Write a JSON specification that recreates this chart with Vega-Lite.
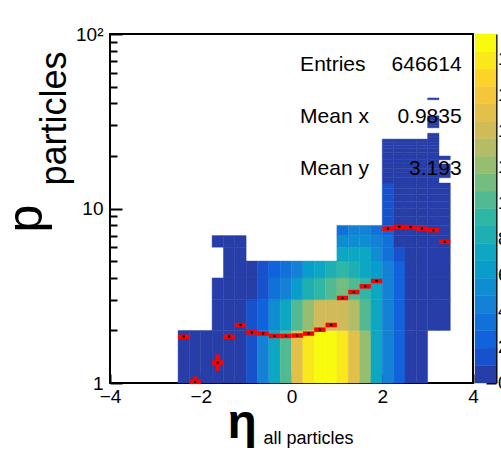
{
  "$schema": "https://vega.github.io/schema/vega-lite/v6.json",
  "width": 363,
  "height": 349,
  "autosize": {"type": "none"},
  "padding": {"left": 110, "top": 34, "right": 28, "bottom": 72},
  "background": "white",
  "view": {"stroke": "black", "strokeWidth": 2, "fill": "white"},
  "config": {
    "font": "Liberation Sans",
    "axis": {"labelFont": "Liberation Sans", "titleFont": "Liberation Sans", "labelColor": "black", "titleColor": "black", "tickColor": "black", "domainColor": "black", "grid": false}
  },
  "resolve": {"scale": {"x": "independent", "y": "independent", "color": "shared"}},
  "layer": [
    {
      "data": {"values": [
        {"x":-2.5,"x2":-2.25,"y":1,"y2":2,"z":0.45},
        {"x":-2.25,"x2":-2.0,"y":1,"y2":2,"z":0.5},
        {"x":-2.0,"x2":-1.75,"y":1,"y2":2,"z":0.4},
        {"x":-1.75,"x2":-1.5,"y":1,"y2":2,"z":0.55},
        {"x":-1.75,"x2":-1.5,"y":2,"y2":3,"z":0.3},
        {"x":-1.75,"x2":-1.5,"y":3,"y2":4,"z":0.2},
        {"x":-1.75,"x2":-1.5,"y":6,"y2":7,"z":0.1},
        {"x":-1.5,"x2":-1.25,"y":1,"y2":2,"z":0.6},
        {"x":-1.5,"x2":-1.25,"y":2,"y2":3,"z":0.5},
        {"x":-1.5,"x2":-1.25,"y":3,"y2":4,"z":0.4},
        {"x":-1.5,"x2":-1.25,"y":4,"y2":5,"z":0.3},
        {"x":-1.5,"x2":-1.25,"y":5,"y2":6,"z":0.2},
        {"x":-1.5,"x2":-1.25,"y":6,"y2":7,"z":0.1},
        {"x":-1.25,"x2":-1.0,"y":1,"y2":2,"z":0.7},
        {"x":-1.25,"x2":-1.0,"y":2,"y2":3,"z":0.6},
        {"x":-1.25,"x2":-1.0,"y":3,"y2":4,"z":0.5},
        {"x":-1.25,"x2":-1.0,"y":4,"y2":5,"z":0.35},
        {"x":-1.25,"x2":-1.0,"y":5,"y2":6,"z":0.25},
        {"x":-1.25,"x2":-1.0,"y":6,"y2":7,"z":0.15},
        {"x":-1.0,"x2":-0.75,"y":1,"y2":2,"z":1.5},
        {"x":-1.0,"x2":-0.75,"y":2,"y2":3,"z":1.2},
        {"x":-1.0,"x2":-0.75,"y":3,"y2":4,"z":0.9},
        {"x":-1.0,"x2":-0.75,"y":4,"y2":5,"z":0.6},
        {"x":-0.75,"x2":-0.5,"y":1,"y2":2,"z":4.4},
        {"x":-0.75,"x2":-0.5,"y":2,"y2":3,"z":2.5},
        {"x":-0.75,"x2":-0.5,"y":3,"y2":4,"z":1.6},
        {"x":-0.75,"x2":-0.5,"y":4,"y2":5,"z":1.2},
        {"x":-0.5,"x2":-0.25,"y":1,"y2":2,"z":7.3},
        {"x":-0.5,"x2":-0.25,"y":2,"y2":3,"z":5.4},
        {"x":-0.5,"x2":-0.25,"y":3,"y2":4,"z":3.5},
        {"x":-0.5,"x2":-0.25,"y":4,"y2":5,"z":2.2},
        {"x":-0.25,"x2":0,"y":1,"y2":2,"z":10.2},
        {"x":-0.25,"x2":0,"y":2,"y2":3,"z":7.3},
        {"x":-0.25,"x2":0,"y":3,"y2":4,"z":4.4},
        {"x":-0.25,"x2":0,"y":4,"y2":5,"z":3.2},
        {"x":0,"x2":0.25,"y":1,"y2":2,"z":15.1},
        {"x":0,"x2":0.25,"y":2,"y2":3,"z":10.2},
        {"x":0,"x2":0.25,"y":3,"y2":4,"z":6.3},
        {"x":0,"x2":0.25,"y":4,"y2":5,"z":4.2},
        {"x":0.25,"x2":0.5,"y":1,"y2":2,"z":18.0},
        {"x":0.25,"x2":0.5,"y":2,"y2":3,"z":12.2},
        {"x":0.25,"x2":0.5,"y":3,"y2":4,"z":8.3},
        {"x":0.25,"x2":0.5,"y":4,"y2":5,"z":6.2},
        {"x":0.5,"x2":0.75,"y":1,"y2":2,"z":19.4},
        {"x":0.5,"x2":0.75,"y":2,"y2":3,"z":14.1},
        {"x":0.5,"x2":0.75,"y":3,"y2":4,"z":9.3},
        {"x":0.5,"x2":0.75,"y":4,"y2":5,"z":7.3},
        {"x":0.75,"x2":1.0,"y":1,"y2":2,"z":19.1},
        {"x":0.75,"x2":1.0,"y":2,"y2":3,"z":14.3},
        {"x":0.75,"x2":1.0,"y":3,"y2":4,"z":10.2},
        {"x":0.75,"x2":1.0,"y":4,"y2":5,"z":8.2},
        {"x":1.0,"x2":1.25,"y":1,"y2":2,"z":18.1},
        {"x":1.0,"x2":1.25,"y":2,"y2":3,"z":14.0},
        {"x":1.0,"x2":1.25,"y":3,"y2":4,"z":11.2},
        {"x":1.0,"x2":1.25,"y":4,"y2":5,"z":9.2},
        {"x":1.0,"x2":1.25,"y":5,"y2":6,"z":7.3},
        {"x":1.0,"x2":1.25,"y":6,"y2":7,"z":5.3},
        {"x":1.0,"x2":1.25,"y":7,"y2":8,"z":3.5},
        {"x":1.25,"x2":1.5,"y":1,"y2":2,"z":15.2},
        {"x":1.25,"x2":1.5,"y":2,"y2":3,"z":13.1},
        {"x":1.25,"x2":1.5,"y":3,"y2":4,"z":10.3},
        {"x":1.25,"x2":1.5,"y":4,"y2":5,"z":8.4},
        {"x":1.25,"x2":1.5,"y":5,"y2":6,"z":7.2},
        {"x":1.25,"x2":1.5,"y":6,"y2":7,"z":5.4},
        {"x":1.25,"x2":1.5,"y":7,"y2":8,"z":4.4},
        {"x":1.5,"x2":1.75,"y":1,"y2":2,"z":12.3},
        {"x":1.5,"x2":1.75,"y":2,"y2":3,"z":10.4},
        {"x":1.5,"x2":1.75,"y":3,"y2":4,"z":9.2},
        {"x":1.5,"x2":1.75,"y":4,"y2":5,"z":7.4},
        {"x":1.5,"x2":1.75,"y":5,"y2":6,"z":7.0},
        {"x":1.5,"x2":1.75,"y":6,"y2":7,"z":5.2},
        {"x":1.5,"x2":1.75,"y":7,"y2":8,"z":4.3},
        {"x":1.75,"x2":2.0,"y":1,"y2":2,"z":7.4},
        {"x":1.75,"x2":2.0,"y":2,"y2":3,"z":7.2},
        {"x":1.75,"x2":2.0,"y":3,"y2":4,"z":7.0},
        {"x":1.75,"x2":2.0,"y":4,"y2":5,"z":6.3},
        {"x":1.75,"x2":2.0,"y":5,"y2":6,"z":5.3},
        {"x":1.75,"x2":2.0,"y":6,"y2":7,"z":4.3},
        {"x":1.75,"x2":2.0,"y":7,"y2":8,"z":3.4},
        {"x":2.0,"x2":2.25,"y":1,"y2":2,"z":4.5},
        {"x":2.0,"x2":2.25,"y":2,"y2":3,"z":4.4},
        {"x":2.0,"x2":2.25,"y":3,"y2":4,"z":4.3},
        {"x":2.0,"x2":2.25,"y":4,"y2":5,"z":4.2},
        {"x":2.0,"x2":2.25,"y":5,"y2":6,"z":3.5},
        {"x":2.0,"x2":2.25,"y":6,"y2":7,"z":3.3},
        {"x":2.0,"x2":2.25,"y":7,"y2":8,"z":2.4},
        {"x":2.0,"x2":2.25,"y":8,"y2":9,"z":1.8},
        {"x":2.0,"x2":2.25,"y":9,"y2":10,"z":1.6},
        {"x":2.0,"x2":2.25,"y":10,"y2":11,"z":1.5},
        {"x":2.0,"x2":2.25,"y":11,"y2":12,"z":1.3},
        {"x":2.0,"x2":2.25,"y":12,"y2":13,"z":1.1},
        {"x":2.0,"x2":2.25,"y":13,"y2":14,"z":1.0},
        {"x":2.0,"x2":2.25,"y":14,"y2":15,"z":0.9},
        {"x":2.0,"x2":2.25,"y":15,"y2":16,"z":0.8},
        {"x":2.0,"x2":2.25,"y":16,"y2":17,"z":0.7},
        {"x":2.0,"x2":2.25,"y":17,"y2":18,"z":0.6},
        {"x":2.0,"x2":2.25,"y":18,"y2":19,"z":0.5},
        {"x":2.0,"x2":2.25,"y":19,"y2":20,"z":0.45},
        {"x":2.0,"x2":2.25,"y":20,"y2":21,"z":0.4},
        {"x":2.0,"x2":2.25,"y":21,"y2":22,"z":0.35},
        {"x":2.0,"x2":2.25,"y":22,"y2":23,"z":0.3},
        {"x":2.0,"x2":2.25,"y":23,"y2":24,"z":0.25},
        {"x":2.0,"x2":2.25,"y":24,"y2":25,"z":0.2},
        {"x":2.25,"x2":2.5,"y":1,"y2":2,"z":2.5},
        {"x":2.25,"x2":2.5,"y":2,"y2":3,"z":2.45},
        {"x":2.25,"x2":2.5,"y":3,"y2":4,"z":2.4},
        {"x":2.25,"x2":2.5,"y":4,"y2":5,"z":2.0},
        {"x":2.25,"x2":2.5,"y":5,"y2":6,"z":1.5},
        {"x":2.25,"x2":2.5,"y":6,"y2":7,"z":0.95},
        {"x":2.25,"x2":2.5,"y":7,"y2":8,"z":0.9},
        {"x":2.25,"x2":2.5,"y":8,"y2":9,"z":0.85},
        {"x":2.25,"x2":2.5,"y":9,"y2":10,"z":0.8},
        {"x":2.25,"x2":2.5,"y":10,"y2":11,"z":0.75},
        {"x":2.25,"x2":2.5,"y":11,"y2":12,"z":0.7},
        {"x":2.25,"x2":2.5,"y":12,"y2":13,"z":0.65},
        {"x":2.25,"x2":2.5,"y":13,"y2":14,"z":0.6},
        {"x":2.25,"x2":2.5,"y":14,"y2":15,"z":0.55},
        {"x":2.25,"x2":2.5,"y":15,"y2":16,"z":0.5},
        {"x":2.25,"x2":2.5,"y":16,"y2":17,"z":0.45},
        {"x":2.25,"x2":2.5,"y":17,"y2":18,"z":0.4},
        {"x":2.25,"x2":2.5,"y":18,"y2":19,"z":0.35},
        {"x":2.25,"x2":2.5,"y":19,"y2":20,"z":0.3},
        {"x":2.25,"x2":2.5,"y":20,"y2":21,"z":0.27},
        {"x":2.25,"x2":2.5,"y":21,"y2":22,"z":0.24},
        {"x":2.25,"x2":2.5,"y":22,"y2":23,"z":0.2},
        {"x":2.25,"x2":2.5,"y":23,"y2":24,"z":0.17},
        {"x":2.25,"x2":2.5,"y":24,"y2":25,"z":0.14},
        {"x":2.5,"x2":2.75,"y":1,"y2":2,"z":0.9},
        {"x":2.5,"x2":2.75,"y":2,"y2":3,"z":0.9},
        {"x":2.5,"x2":2.75,"y":3,"y2":4,"z":0.85},
        {"x":2.5,"x2":2.75,"y":4,"y2":5,"z":0.85},
        {"x":2.5,"x2":2.75,"y":5,"y2":6,"z":0.8},
        {"x":2.5,"x2":2.75,"y":6,"y2":7,"z":0.8},
        {"x":2.5,"x2":2.75,"y":7,"y2":8,"z":0.75},
        {"x":2.5,"x2":2.75,"y":8,"y2":9,"z":0.75},
        {"x":2.5,"x2":2.75,"y":9,"y2":10,"z":0.7},
        {"x":2.5,"x2":2.75,"y":10,"y2":11,"z":0.65},
        {"x":2.5,"x2":2.75,"y":11,"y2":12,"z":0.6},
        {"x":2.5,"x2":2.75,"y":12,"y2":13,"z":0.55},
        {"x":2.5,"x2":2.75,"y":13,"y2":14,"z":0.5},
        {"x":2.5,"x2":2.75,"y":14,"y2":15,"z":0.45},
        {"x":2.5,"x2":2.75,"y":15,"y2":16,"z":0.4},
        {"x":2.5,"x2":2.75,"y":16,"y2":17,"z":0.38},
        {"x":2.5,"x2":2.75,"y":17,"y2":18,"z":0.35},
        {"x":2.5,"x2":2.75,"y":18,"y2":19,"z":0.32},
        {"x":2.5,"x2":2.75,"y":19,"y2":20,"z":0.3},
        {"x":2.5,"x2":2.75,"y":20,"y2":21,"z":0.27},
        {"x":2.5,"x2":2.75,"y":21,"y2":22,"z":0.24},
        {"x":2.5,"x2":2.75,"y":22,"y2":23,"z":0.2},
        {"x":2.5,"x2":2.75,"y":23,"y2":24,"z":0.17},
        {"x":2.5,"x2":2.75,"y":24,"y2":25,"z":0.14},
        {"x":2.75,"x2":3.0,"y":1,"y2":2,"z":0.8},
        {"x":2.75,"x2":3.0,"y":2,"y2":3,"z":0.8},
        {"x":2.75,"x2":3.0,"y":3,"y2":4,"z":0.78},
        {"x":2.75,"x2":3.0,"y":4,"y2":5,"z":0.76},
        {"x":2.75,"x2":3.0,"y":5,"y2":6,"z":0.74},
        {"x":2.75,"x2":3.0,"y":6,"y2":7,"z":0.72},
        {"x":2.75,"x2":3.0,"y":7,"y2":8,"z":0.7},
        {"x":2.75,"x2":3.0,"y":8,"y2":9,"z":0.68},
        {"x":2.75,"x2":3.0,"y":9,"y2":10,"z":0.64},
        {"x":2.75,"x2":3.0,"y":10,"y2":11,"z":0.6},
        {"x":2.75,"x2":3.0,"y":11,"y2":12,"z":0.55},
        {"x":2.75,"x2":3.0,"y":12,"y2":13,"z":0.5},
        {"x":2.75,"x2":3.0,"y":13,"y2":14,"z":0.46},
        {"x":2.75,"x2":3.0,"y":14,"y2":15,"z":0.42},
        {"x":2.75,"x2":3.0,"y":15,"y2":16,"z":0.38},
        {"x":2.75,"x2":3.0,"y":16,"y2":17,"z":0.34},
        {"x":2.75,"x2":3.0,"y":17,"y2":18,"z":0.3},
        {"x":2.75,"x2":3.0,"y":18,"y2":19,"z":0.27},
        {"x":2.75,"x2":3.0,"y":19,"y2":20,"z":0.24},
        {"x":2.75,"x2":3.0,"y":20,"y2":21,"z":0.21},
        {"x":2.75,"x2":3.0,"y":21,"y2":22,"z":0.18},
        {"x":2.75,"x2":3.0,"y":22,"y2":23,"z":0.15},
        {"x":2.75,"x2":3.0,"y":23,"y2":24,"z":0.12},
        {"x":2.75,"x2":3.0,"y":24,"y2":25,"z":0.1},
        {"x":3.0,"x2":3.25,"y":2,"y2":3,"z":0.7},
        {"x":3.0,"x2":3.25,"y":3,"y2":4,"z":0.7},
        {"x":3.0,"x2":3.25,"y":4,"y2":5,"z":0.68},
        {"x":3.0,"x2":3.25,"y":5,"y2":6,"z":0.66},
        {"x":3.0,"x2":3.25,"y":6,"y2":7,"z":0.64},
        {"x":3.0,"x2":3.25,"y":7,"y2":8,"z":0.62},
        {"x":3.0,"x2":3.25,"y":8,"y2":9,"z":0.6},
        {"x":3.0,"x2":3.25,"y":9,"y2":10,"z":0.56},
        {"x":3.0,"x2":3.25,"y":10,"y2":11,"z":0.52},
        {"x":3.0,"x2":3.25,"y":11,"y2":12,"z":0.48},
        {"x":3.0,"x2":3.25,"y":12,"y2":13,"z":0.44},
        {"x":3.0,"x2":3.25,"y":13,"y2":14,"z":0.4},
        {"x":3.0,"x2":3.25,"y":14,"y2":15,"z":0.36},
        {"x":3.0,"x2":3.25,"y":15,"y2":16,"z":0.33},
        {"x":3.0,"x2":3.25,"y":16,"y2":17,"z":0.3},
        {"x":3.0,"x2":3.25,"y":17,"y2":18,"z":0.27},
        {"x":3.0,"x2":3.25,"y":18,"y2":19,"z":0.24},
        {"x":3.0,"x2":3.25,"y":19,"y2":20,"z":0.21},
        {"x":3.0,"x2":3.25,"y":20,"y2":21,"z":0.18},
        {"x":3.0,"x2":3.25,"y":21,"y2":22,"z":0.15},
        {"x":3.0,"x2":3.25,"y":22,"y2":23,"z":0.12},
        {"x":3.0,"x2":3.25,"y":23,"y2":24,"z":0.1},
        {"x":3.0,"x2":3.25,"y":24,"y2":25,"z":0.08},
        {"x":3.0,"x2":3.25,"y":25,"y2":26,"z":0.06},
        {"x":3.0,"x2":3.25,"y":26,"y2":27,"z":0.04},
        {"x":3.0,"x2":3.25,"y":29,"y2":30,"z":0.02},
        {"x":3.0,"x2":3.25,"y":30,"y2":31,"z":0.02},
        {"x":3.0,"x2":3.25,"y":31,"y2":32,"z":0.02},
        {"x":3.0,"x2":3.25,"y":32,"y2":33,"z":0.02},
        {"x":3.0,"x2":3.25,"y":33,"y2":34,"z":0.02},
        {"x":3.0,"x2":3.25,"y":42,"y2":43,"z":0.01},
        {"x":3.25,"x2":3.5,"y":2,"y2":3,"z":0.6},
        {"x":3.25,"x2":3.5,"y":3,"y2":4,"z":0.6},
        {"x":3.25,"x2":3.5,"y":4,"y2":5,"z":0.58},
        {"x":3.25,"x2":3.5,"y":5,"y2":6,"z":0.55},
        {"x":3.25,"x2":3.5,"y":6,"y2":7,"z":0.5},
        {"x":3.25,"x2":3.5,"y":7,"y2":8,"z":0.45},
        {"x":3.25,"x2":3.5,"y":8,"y2":9,"z":0.4},
        {"x":3.25,"x2":3.5,"y":9,"y2":10,"z":0.35},
        {"x":3.25,"x2":3.5,"y":10,"y2":11,"z":0.3},
        {"x":3.25,"x2":3.5,"y":11,"y2":12,"z":0.25},
        {"x":3.25,"x2":3.5,"y":12,"y2":13,"z":0.2},
        {"x":3.25,"x2":3.5,"y":13,"y2":14,"z":0.15},
        {"x":3.25,"x2":3.5,"y":15,"y2":16,"z":0.08},
        {"x":3.25,"x2":3.5,"y":16,"y2":17,"z":0.06},
        {"x":3.25,"x2":3.5,"y":17,"y2":18,"z":0.04},
        {"x":3.25,"x2":3.5,"y":19,"y2":20,"z":0.02}
      ]},
      "mark": {"type": "rect", "strokeWidth": 0.4},
      "encoding": {
        "x": {"field": "x", "type": "quantitative", "scale": {"domain": [-4, 4], "nice": false, "zero": false},
          "axis": {"orient": "bottom", "values": [-4, -2, 0, 2, 4], "domain": false, "tickSize": -9, "tickWidth": 2, "labelFontSize": 19, "labelPadding": 13, "labelFlush": false,
            "title": "η", "titleFontSize": 48, "titleFontWeight": "bold", "titleAlign": "left", "titleBaseline": "alphabetic", "titleX": 117, "titleY": 54}},
        "x2": {"field": "x2"},
        "y": {"field": "y", "type": "quantitative", "scale": {"type": "log", "domain": [1, 100], "nice": false},
          "axis": {"orient": "left", "values": [1, 10, 100], "domain": false, "tickSize": -12, "tickWidth": 2, "labelFontSize": 19, "labelPadding": 19, "labelFlush": false,
            "labelExpr": "datum.value >= 100 ? '10²' : (datum.value >= 10 ? '10' : '1')",
            "title": "p", "titleFontSize": 50, "titleFontWeight": "normal", "titleAngle": -90, "titleAlign": "left", "titleBaseline": "alphabetic", "titleX": -69, "titleY": 198}},
        "y2": {"field": "y2"},
        "color": {"field": "z", "type": "quantitative",
          "scale": {"type": "quantize", "domain": [0, 19.4], "nice": false, "zero": false,
            "range": ["#273da7","#1751cb","#1063dc","#1271d9","#1480d6","#0e8ed1","#099dcc","#0da7c3","#1eafb3","#2eb7a4","#52ba92","#74bd81","#96be71","#b4bc65","#d1bb59","#e2c04a","#f5c63a","#fdd32a","#fbe81b","#f9fb0e"]},
          "legend": null},
        "stroke": {"field": "z", "type": "quantitative",
          "scale": {"type": "quantize", "domain": [0, 19.4], "nice": false, "zero": false,
            "range": ["#273da7","#1751cb","#1063dc","#1271d9","#1480d6","#0e8ed1","#099dcc","#0da7c3","#1eafb3","#2eb7a4","#52ba92","#74bd81","#96be71","#b4bc65","#d1bb59","#e2c04a","#f5c63a","#fdd32a","#fbe81b","#f9fb0e"]},
          "legend": null}
      }
    },
    {
      "data": {"values": [
        {"x":-2.375,"xlo":-2.5,"xhi":-2.25,"y":1.84,"ylo":1.83,"yhi":1.85},
        {"x":-2.125,"xlo":-2.25,"xhi":-2.0,"y":1.015,"ylo":1.0,"yhi":1.09},
        {"x":-1.625,"xlo":-1.75,"xhi":-1.5,"y":1.31,"ylo":1.17,"yhi":1.46},
        {"x":-1.375,"xlo":-1.5,"xhi":-1.25,"y":1.84,"ylo":1.79,"yhi":1.89},
        {"x":-1.125,"xlo":-1.25,"xhi":-1.0,"y":2.15,"ylo":2.14,"yhi":2.16},
        {"x":-0.875,"xlo":-1.0,"xhi":-0.75,"y":1.95,"ylo":1.94,"yhi":1.96},
        {"x":-0.625,"xlo":-0.75,"xhi":-0.5,"y":1.92,"ylo":1.91,"yhi":1.93},
        {"x":-0.375,"xlo":-0.5,"xhi":-0.25,"y":1.86,"ylo":1.85,"yhi":1.87},
        {"x":-0.125,"xlo":-0.25,"xhi":0,"y":1.86,"ylo":1.85,"yhi":1.87},
        {"x":0.125,"xlo":0,"xhi":0.25,"y":1.87,"ylo":1.86,"yhi":1.88},
        {"x":0.375,"xlo":0.25,"xhi":0.5,"y":1.92,"ylo":1.91,"yhi":1.93},
        {"x":0.625,"xlo":0.5,"xhi":0.75,"y":2.02,"ylo":2.01,"yhi":2.03},
        {"x":0.875,"xlo":0.75,"xhi":1.0,"y":2.15,"ylo":2.14,"yhi":2.16},
        {"x":1.125,"xlo":1.0,"xhi":1.25,"y":3.07,"ylo":3.06,"yhi":3.08},
        {"x":1.375,"xlo":1.25,"xhi":1.5,"y":3.32,"ylo":3.31,"yhi":3.33},
        {"x":1.625,"xlo":1.5,"xhi":1.75,"y":3.58,"ylo":3.57,"yhi":3.59},
        {"x":1.875,"xlo":1.75,"xhi":2.0,"y":3.84,"ylo":3.83,"yhi":3.85},
        {"x":2.125,"xlo":2.0,"xhi":2.25,"y":7.67,"ylo":7.65,"yhi":7.69},
        {"x":2.375,"xlo":2.25,"xhi":2.5,"y":7.85,"ylo":7.83,"yhi":7.87},
        {"x":2.625,"xlo":2.5,"xhi":2.75,"y":7.82,"ylo":7.8,"yhi":7.84},
        {"x":2.875,"xlo":2.75,"xhi":3.0,"y":7.67,"ylo":7.65,"yhi":7.69},
        {"x":3.125,"xlo":3.0,"xhi":3.25,"y":7.51,"ylo":7.49,"yhi":7.53},
        {"x":3.375,"xlo":3.25,"xhi":3.5,"y":6.44,"ylo":6.42,"yhi":6.46}
      ]},
      "layer": [
        {
          "mark": {"type": "rule", "color": "#ff0000", "strokeWidth": 4.5, "strokeCap": "butt"},
          "encoding": {
            "x": {"field": "xlo", "type": "quantitative", "scale": {"domain": [-4, 4], "nice": false, "zero": false},
              "axis": {"orient": "bottom", "labels": false, "ticks": false, "domain": false, "title": "all particles", "titleFontSize": 18, "titleFontWeight": "normal", "titleAlign": "left", "titleBaseline": "alphabetic", "titleX": 153, "titleY": 60}},
            "x2": {"field": "xhi"},
            "y": {"field": "y", "type": "quantitative", "scale": {"type": "log", "domain": [1, 100], "nice": false},
              "axis": {"orient": "left", "values": [2,3,4,5,6,7,8,9,20,30,40,50,60,70,80,90], "labels": false, "domain": false, "tickSize": -7, "tickWidth": 2,
                "title": "particles", "titleFontSize": 36, "titleFontWeight": "normal", "titleAngle": -90, "titleAlign": "left", "titleBaseline": "alphabetic", "titleX": -45, "titleY": 151}}
          }
        },
        {
          "mark": {"type": "rule", "color": "#ff0000", "strokeWidth": 4.5, "strokeCap": "butt"},
          "encoding": {
            "x": {"field": "x", "type": "quantitative"},
            "y": {"field": "ylo", "type": "quantitative"},
            "y2": {"field": "yhi"}
          }
        },
        {
          "mark": {"type": "point", "shape": "square", "filled": true, "color": "black", "size": 5, "opacity": 1},
          "encoding": {
            "x": {"field": "x", "type": "quantitative"},
            "y": {"field": "y", "type": "quantitative"}
          }
        }
      ]
    },
    {
      "data": {"values": [
        {"stat": "Entries", "value": "646614"},
        {"stat": "Mean x", "value": "0.9835"},
        {"stat": "Mean y", "value": "3.193"}
      ]},
      "encoding": {
        "y": {"field": "stat", "type": "nominal", "scale": {"type": "point", "domain": ["Entries", "Mean x", "Mean y"], "range": [36.7, 141], "padding": 0}, "axis": null}
      },
      "layer": [
        {
          "mark": {"type": "text", "align": "left", "baseline": "alphabetic", "fontSize": 21, "font": "Liberation Sans", "color": "black"},
          "encoding": {
            "x": {"datum": 0.19, "type": "quantitative", "scale": {"domain": [-4, 4], "nice": false, "zero": false}, "axis": null},
            "text": {"field": "stat"}
          }
        },
        {
          "mark": {"type": "text", "align": "right", "baseline": "alphabetic", "fontSize": 21, "font": "Liberation Sans", "color": "black"},
          "encoding": {
            "x": {"datum": 3.75, "type": "quantitative"},
            "text": {"field": "value"}
          }
        }
      ]
    },
    {
      "data": {"values": [
        {"lo":0,"hi":0.97,"z":0.485},{"lo":0.97,"hi":1.94,"z":1.455},{"lo":1.94,"hi":2.91,"z":2.425},{"lo":2.91,"hi":3.88,"z":3.395},
        {"lo":3.88,"hi":4.85,"z":4.365},{"lo":4.85,"hi":5.82,"z":5.335},{"lo":5.82,"hi":6.79,"z":6.305},{"lo":6.79,"hi":7.76,"z":7.275},
        {"lo":7.76,"hi":8.73,"z":8.245},{"lo":8.73,"hi":9.7,"z":9.215},{"lo":9.7,"hi":10.67,"z":10.185},{"lo":10.67,"hi":11.64,"z":11.155},
        {"lo":11.64,"hi":12.61,"z":12.125},{"lo":12.61,"hi":13.58,"z":13.095},{"lo":13.58,"hi":14.55,"z":14.065},{"lo":14.55,"hi":15.52,"z":15.035},
        {"lo":15.52,"hi":16.49,"z":16.005},{"lo":16.49,"hi":17.46,"z":16.975},{"lo":17.46,"hi":18.43,"z":17.945},{"lo":18.43,"hi":19.4,"z":18.915}
      ]},
      "mark": {"type": "rect", "strokeWidth": 0.4},
      "encoding": {
        "x": {"datum": 0, "type": "quantitative", "scale": {"domain": [0, 1], "range": [365, 386], "nice": false, "zero": false}, "axis": null},
        "x2": {"datum": 1},
        "y": {"field": "lo", "type": "quantitative", "scale": {"domain": [0, 19.4], "nice": false, "zero": false},
          "axis": {"orient": "right", "offset": 23, "values": [0,2,4,6,8,10,12,14,16,18], "domain": true, "domainWidth": 2, "tickSize": -10, "tickWidth": 2, "labelFontSize": 18, "labelPadding": 11.5, "labelFlush": false, "title": null}},
        "y2": {"field": "hi"},
        "color": {"field": "z", "type": "quantitative",
          "scale": {"type": "quantize", "domain": [0, 19.4], "nice": false, "zero": false,
            "range": ["#273da7","#1751cb","#1063dc","#1271d9","#1480d6","#0e8ed1","#099dcc","#0da7c3","#1eafb3","#2eb7a4","#52ba92","#74bd81","#96be71","#b4bc65","#d1bb59","#e2c04a","#f5c63a","#fdd32a","#fbe81b","#f9fb0e"]},
          "legend": null},
        "stroke": {"field": "z", "type": "quantitative",
          "scale": {"type": "quantize", "domain": [0, 19.4], "nice": false, "zero": false,
            "range": ["#273da7","#1751cb","#1063dc","#1271d9","#1480d6","#0e8ed1","#099dcc","#0da7c3","#1eafb3","#2eb7a4","#52ba92","#74bd81","#96be71","#b4bc65","#d1bb59","#e2c04a","#f5c63a","#fdd32a","#fbe81b","#f9fb0e"]},
          "legend": null}
      }
    }
  ]
}
